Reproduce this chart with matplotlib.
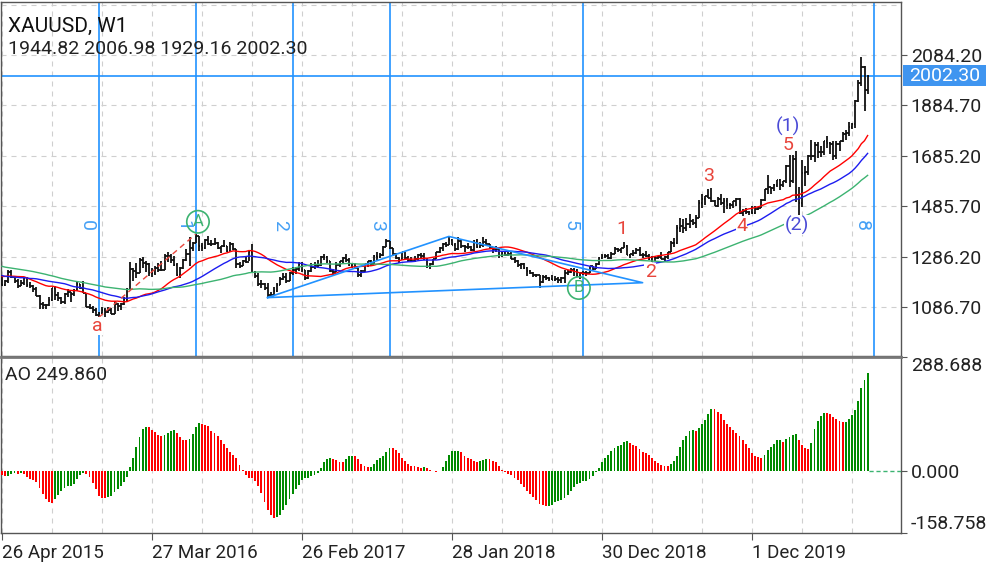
import numpy as np
import pandas as pd
import matplotlib
matplotlib.use('Agg')
from matplotlib import pyplot as plt
from matplotlib.patches import Rectangle

plt.rcParams['font.family'] = ['Roboto', 'DejaVu Sans']

# weekly XAUUSD bars, first visible bar = week of 26 Apr 2015
first_week = '2015-04-26'
last_open = 1944.82
ao_shown = 249.860   # value printed in the AO panel header

# closes before the first visible bar (Jan 2014 .. Apr 2015), only used by the averages and AO
pre_close = [1247, 1254, 1264, 1240, 1263, 1318, 1323, 1326, 1339, 1379,
             1336, 1294, 1300, 1318, 1294, 1300, 1300, 1290, 1293, 1292,
             1250, 1252, 1274, 1316, 1316, 1320, 1337, 1310, 1310, 1294,
             1303, 1305, 1280, 1287, 1268, 1253, 1227, 1215, 1211, 1192,
             1223, 1231, 1172, 1169, 1186, 1197, 1175, 1191, 1222, 1195,
             1195, 1184, 1215, 1277, 1293, 1279, 1234, 1227, 1204, 1213,
             1167, 1152, 1183, 1199, 1201, 1207, 1203, 1178]

close = [1174, 1189, 1225, 1205, 1190, 1168, 1180, 1201, 1173, 1168,
         1157, 1132, 1098, 1095, 1094, 1113, 1160, 1134, 1121, 1108,
         1138, 1145, 1137, 1156, 1176, 1163, 1142, 1088, 1081, 1076,
         1057, 1062, 1075, 1065, 1076, 1061, 1097, 1090, 1097, 1117,
         1158, 1239, 1230, 1221, 1271, 1259, 1255, 1220, 1222, 1243,
         1235, 1233, 1290, 1290, 1273, 1252, 1213, 1243, 1272, 1298,
         1322, 1340, 1366, 1327, 1322, 1351, 1335, 1336, 1341, 1320,
         1327, 1328, 1310, 1337, 1316, 1257, 1251, 1267, 1266, 1304,
         1225, 1208, 1178, 1177, 1161, 1134, 1133, 1151, 1173, 1196,
         1204, 1190, 1220, 1234, 1236, 1257, 1234, 1201, 1229, 1244,
         1249, 1254, 1285, 1284, 1268, 1228, 1227, 1254, 1267, 1279,
         1271, 1253, 1256, 1242, 1212, 1228, 1255, 1268, 1258, 1289,
         1285, 1291, 1325, 1347, 1320, 1297, 1280, 1275, 1304, 1280,
         1272, 1269, 1275, 1294, 1288, 1278, 1248, 1257, 1275, 1303,
         1322, 1338, 1333, 1351, 1333, 1315, 1347, 1330, 1323, 1323,
         1313, 1347, 1323, 1332, 1345, 1336, 1323, 1315, 1318, 1291,
         1302, 1294, 1298, 1278, 1270, 1252, 1255, 1241, 1231, 1223,
         1214, 1212, 1184, 1205, 1201, 1198, 1194, 1199, 1192, 1203,
         1222, 1227, 1234, 1232, 1210, 1222, 1223, 1222, 1248, 1238,
         1257, 1279, 1287, 1289, 1282, 1298, 1318, 1314, 1322, 1328,
         1294, 1298, 1302, 1312, 1292, 1291, 1290, 1276, 1286, 1279,
         1285, 1277, 1283, 1305, 1341, 1341, 1399, 1409, 1399, 1415,
         1426, 1419, 1440, 1497, 1513, 1527, 1520, 1506, 1488, 1516,
         1497, 1505, 1489, 1490, 1505, 1514, 1459, 1468, 1462, 1464,
         1460, 1476, 1478, 1511, 1552, 1562, 1557, 1571, 1589, 1570,
         1584, 1643, 1585, 1674, 1530, 1498, 1617, 1620, 1683, 1683,
         1727, 1700, 1702, 1743, 1735, 1730, 1683, 1730, 1743, 1771,
         1774, 1798, 1810, 1902, 1975, 2035, 1944, 2002.30]

high = [1214, 1194, 1232, 1232, 1207, 1199, 1194, 1205, 1205, 1186,
        1175, 1165, 1133, 1105, 1097, 1126, 1163, 1170, 1148, 1125,
        1142, 1157, 1148, 1158, 1191, 1178, 1191, 1142, 1098, 1091,
        1083, 1066, 1088, 1081, 1088, 1082, 1112, 1101, 1104, 1128,
        1160, 1263, 1240, 1261, 1280, 1283, 1269, 1260, 1242, 1250,
        1262, 1270, 1296, 1304, 1295, 1287, 1260, 1245, 1276, 1316,
        1362, 1343, 1375, 1369, 1339, 1356, 1367, 1353, 1358, 1346,
        1330, 1352, 1330, 1343, 1342, 1318, 1266, 1273, 1285, 1307,
        1338, 1231, 1221, 1194, 1181, 1180, 1147, 1164, 1182, 1207,
        1220, 1220, 1226, 1244, 1245, 1264, 1264, 1235, 1232, 1261,
        1263, 1274, 1288, 1295, 1288, 1270, 1236, 1264, 1270, 1283,
        1296, 1280, 1260, 1260, 1243, 1234, 1256, 1270, 1274, 1291,
        1306, 1300, 1330, 1357, 1348, 1320, 1300, 1283, 1306, 1306,
        1287, 1283, 1287, 1297, 1299, 1299, 1279, 1260, 1276, 1303,
        1326, 1340, 1344, 1366, 1355, 1339, 1362, 1356, 1333, 1340,
        1327, 1350, 1356, 1346, 1365, 1354, 1337, 1324, 1327, 1321,
        1307, 1308, 1304, 1309, 1285, 1272, 1262, 1262, 1247, 1235,
        1227, 1219, 1212, 1214, 1214, 1206, 1214, 1211, 1204, 1207,
        1233, 1233, 1243, 1243, 1237, 1225, 1230, 1230, 1250, 1251,
        1262, 1283, 1298, 1298, 1297, 1303, 1326, 1320, 1322, 1346,
        1333, 1298, 1311, 1320, 1325, 1299, 1310, 1296, 1289, 1290,
        1288, 1304, 1287, 1306, 1348, 1358, 1411, 1439, 1437, 1439,
        1453, 1434, 1449, 1510, 1534, 1527, 1555, 1557, 1512, 1522,
        1535, 1519, 1518, 1499, 1505, 1518, 1518, 1475, 1480, 1466,
        1485, 1486, 1483, 1513, 1553, 1611, 1563, 1575, 1591, 1592,
        1584, 1649, 1689, 1692, 1703, 1560, 1667, 1645, 1690, 1748,
        1739, 1739, 1724, 1744, 1765, 1740, 1745, 1745, 1745, 1779,
        1789, 1818, 1815, 1907, 1984, 2075, 2039, 2006.98]

low = [1170, 1170, 1181, 1202, 1181, 1162, 1169, 1172, 1167, 1162,
       1146, 1130, 1077, 1078, 1077, 1090, 1110, 1115, 1111, 1099,
       1098, 1127, 1108, 1131, 1150, 1159, 1141, 1085, 1077, 1062,
       1052, 1046, 1060, 1047, 1064, 1058, 1061, 1072, 1074, 1095,
       1111, 1155, 1191, 1200, 1220, 1240, 1226, 1208, 1207, 1212,
       1224, 1229, 1233, 1264, 1260, 1250, 1208, 1200, 1239, 1268,
       1250, 1308, 1340, 1310, 1310, 1315, 1333, 1327, 1334, 1317,
       1302, 1323, 1306, 1310, 1313, 1241, 1243, 1251, 1260, 1268,
       1220, 1200, 1171, 1161, 1156, 1122, 1123, 1129, 1145, 1172,
       1192, 1180, 1188, 1215, 1218, 1230, 1224, 1195, 1198, 1226,
       1237, 1240, 1250, 1273, 1261, 1227, 1214, 1225, 1247, 1258,
       1266, 1250, 1240, 1236, 1205, 1204, 1227, 1247, 1251, 1255,
       1272, 1281, 1287, 1325, 1315, 1287, 1275, 1261, 1274, 1277,
       1263, 1264, 1265, 1271, 1280, 1271, 1243, 1236, 1252, 1275,
       1302, 1307, 1325, 1331, 1331, 1307, 1312, 1321, 1303, 1316,
       1308, 1307, 1322, 1322, 1325, 1334, 1315, 1302, 1305, 1282,
       1283, 1287, 1287, 1276, 1261, 1246, 1237, 1239, 1211, 1217,
       1204, 1207, 1160, 1182, 1195, 1190, 1192, 1189, 1180, 1181,
       1183, 1214, 1220, 1211, 1207, 1196, 1213, 1211, 1221, 1234,
       1236, 1254, 1276, 1279, 1277, 1276, 1298, 1303, 1302, 1320,
       1292, 1280, 1290, 1296, 1288, 1281, 1285, 1271, 1266, 1267,
       1275, 1275, 1266, 1276, 1305, 1323, 1337, 1382, 1381, 1386,
       1400, 1412, 1400, 1438, 1480, 1492, 1518, 1503, 1485, 1484,
       1492, 1459, 1474, 1475, 1480, 1485, 1456, 1446, 1456, 1452,
       1454, 1455, 1471, 1477, 1508, 1535, 1536, 1546, 1563, 1548,
       1562, 1578, 1563, 1576, 1504, 1451, 1482, 1567, 1611, 1668,
       1660, 1677, 1680, 1690, 1717, 1693, 1670, 1671, 1704, 1741,
       1747, 1763, 1793, 1797, 1898, 1960, 1863, 1929.16]

ma_periods = [23, 36, 60]
ma_colors = ['#ff0000', '#1c1cf0', '#3cb371']

# fibonacci time zones (week index of each line)
fib_weeks = [31, 62, 93, 124, 186, 279]
fib_names = ['0', '1', '2', '3', '5', '8']

price_ticks = [1086.70, 1286.20, 1485.70, 1685.20, 1884.70, 2084.20]
ao_ticks = [-158.758, 0.0, 288.688]

# elliott wave marks: text, week, price, colour
wave_marks = [('a', 30.4, 1012, '#e8453c'),
              ('1', 198.3, 1396, '#e8453c'),
              ('2', 207.4, 1226, '#e8453c'),
              ('3', 226.2, 1605, '#e8453c'),
              ('4', 236.7, 1407, '#e8453c'),
              ('5', 251.5, 1726, '#e8453c'),
              ('(1)', 251.4, 1803, '#4b4bd6'),
              ('(2)', 254.3, 1411, '#4b4bd6')]
circle_marks = [('A', 62.7, 1424), ('B', 184.6, 1162)]
triangle_pts = [(85, 1124), (143, 1366), (205, 1183)]
dash_line = [(31, 1046), (62, 1375)]

# ---------------------------------------------------------------
n = len(close)
npre = len(pre_close)
x = np.arange(n)
dates = pd.date_range(first_week, periods=n, freq='7D')
close = np.array(close, dtype=float)
high = np.array(high, dtype=float)
low = np.array(low, dtype=float)
opn = np.concatenate([[pre_close[-1]], close[:-1]])
opn[-1] = last_open

all_close = pd.Series(np.concatenate([pre_close, close]))
mas = [all_close.rolling(p).mean().values[npre:] for p in ma_periods]

median = pd.Series(np.concatenate([pre_close, (high + low) / 2]))
ao = (median.rolling(5).mean() - median.rolling(34).mean()).values[npre:]
ao_up = np.concatenate([[False], ao[1:] > ao[:-1]])

W, H = 1000, 563
def box(l, t, r, b):
    return [l / W, 1 - b / H, (r - l) / W, (b - t) / H]

fig = plt.figure(figsize=(10, 5.63), dpi=100)
ax = fig.add_axes(box(1, 2, 901, 356))
ax2 = fig.add_axes(box(1, 357, 901, 533), sharex=ax)

xlim = ((1 - 2) / 3.125, (901 - 2) / 3.125)
ax.set_xlim(*xlim)
ax.set_ylim(892.8, 2294.0)
ax2.set_ylim(ao_ticks[0], ao_ticks[-1])

grid_kw = dict(color='#cfcfcf', lw=0.8, ls=(0, (4.5, 4.5)), zorder=0)
for wk in range(0, 300, 16):
    ax.axvline(wk, **grid_kw)
    ax2.axvline(wk, **grid_kw)
for p in price_ticks + [2283.70]:
    ax.axhline(p, **grid_kw)

# fib time zones
fib_col = '#2192ff'
for wk, name in zip(fib_weeks, fib_names):
    ax.axvline(wk, color=fib_col, lw=1.2, zorder=2)
    ax.text(wk - 3.9, 1411, name, rotation=-90, ha='center', va='center',
            color='#45a0f5', fontsize=14, zorder=6)

# bars
bar_kw = dict(color='#111111', lw=1.3, zorder=3)
ax.vlines(x, low, high, **bar_kw)
ax.hlines(opn, x - 0.45, x, **bar_kw)
ax.hlines(close, x, x + 0.45, **bar_kw)

for m, c in zip(mas, ma_colors):
    ax.plot(x, m, color=c, lw=1.0, zorder=4)

# current price line
ax.axhline(close[-1], color=fib_col, lw=1.2, zorder=2)

# triangle and dashed wave line
tx = [p[0] for p in triangle_pts] + [triangle_pts[0][0]]
ty = [p[1] for p in triangle_pts] + [triangle_pts[0][1]]
ax.plot(tx, ty, color=fib_col, lw=1.2, zorder=4)
ax.plot([p[0] for p in dash_line], [p[1] for p in dash_line],
        color='#e8453c', lw=1.0, ls=(0, (4, 3)), zorder=4)

for txt, wk, p, c in wave_marks:
    ax.text(wk, p, txt, ha='center', va='center', color=c, fontsize=14, zorder=7,
            bbox=dict(fc='white', ec='none', pad=0.2))
for txt, wk, p in circle_marks:
    ax.scatter([wk], [p], s=260, facecolors='none', edgecolors='#3cb371',
               linewidths=1.2, zorder=7)
    ax.text(wk, p, txt, ha='center', va='center', color='#3cb371', fontsize=12, zorder=7)

# AO panel
ao_col = np.where(ao_up, '#008a00', '#ff0000')
ax2.bar(x, ao, width=0.6, color=ao_col, zorder=3)
ax2.plot([n - 0.5, xlim[1]], [0, 0], color='#3cb371', lw=1.0, ls=(0, (3, 2)), zorder=3)

# axes styling
for a in (ax, ax2):
    for s in a.spines.values():
        s.set_color('#555555')
        s.set_linewidth(1.0)
    a.yaxis.tick_right()
    a.tick_params(axis='y', direction='out', length=4, width=0.8, pad=3,
                  labelsize=14, colors='#555555', labelcolor='#222222')
ax2.spines['top'].set_linewidth(2.0)
ax2.spines['top'].set_color('#777777')

ax.set_yticks(price_ticks)
ax.set_yticklabels([f'{v:.2f}' for v in price_ticks])
ax.tick_params(axis='x', which='both', bottom=False, labelbottom=False)

ax2.set_yticks(ao_ticks)
ax2.set_yticklabels([f'{v:.3f}' for v in ao_ticks])
tl = ax2.get_yticklabels()
tl[0].set_va('bottom')
tl[-1].set_va('top')

date_idx = list(range(0, n, 48))
ax2.set_xticks(date_idx)
ax2.set_xticklabels([f'{dates[i].day} {dates[i].strftime("%b %Y")}' for i in date_idx],
                    ha='left')
ax2.tick_params(axis='x', direction='out', length=5, width=0.8, pad=3,
                labelsize=13.5, colors='#555555', labelcolor='#222222')

# header texts
fig.text(8 / W, 1 - 31.5 / H, 'XAUUSD, W1', fontsize=15, color='#111111', va='baseline')
fig.text(8 / W, 1 - 53.5 / H, f'{opn[-1]:.2f} {high[-1]:.2f} {low[-1]:.2f} {close[-1]:.2f}',
         fontsize=14, color='#222222', va='baseline')
fig.text(5 / W, 1 - 380 / H, f'AO {ao_shown:.3f}', fontsize=14, color='#222222', va='baseline')

# last price box on the axis
py = 55 + (2084.2 - close[-1]) / 3.958
fig.patches.append(Rectangle((903 / W, 1 - (py + 10.5) / H), 83 / W, 21 / H,
                             transform=fig.transFigure, fc='#3f95f0', ec='none'))
fig.text(944.5 / W, 1 - py / H, f'{close[-1]:.2f}', fontsize=14, color='white',
         ha='center', va='center')

fig.savefig('out.png', dpi=100)
